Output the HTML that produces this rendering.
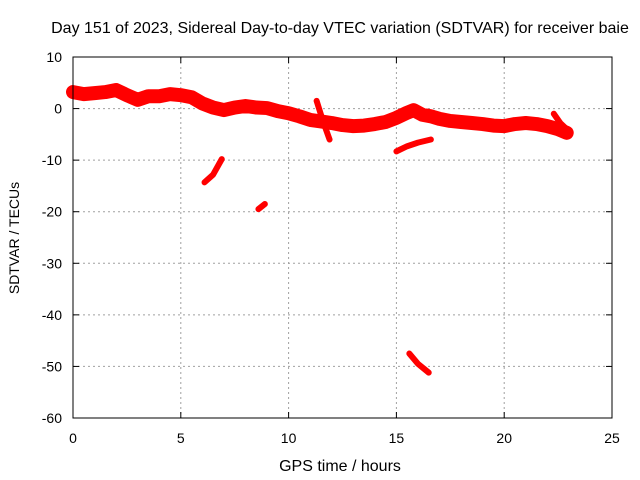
<!DOCTYPE html>
<html><head><meta charset="utf-8"><style>
body{margin:0;background:#fff}
svg{display:block;font-family:"Liberation Sans",sans-serif;font-size:14px}
</style></head><body>
<svg id="c" width="640" height="480">
<rect x="0" y="0" width="640" height="480" fill="#fff"/>
<text x="340" y="33" text-anchor="middle" style="font-size:16px">Day 151 of 2023, Sidereal Day-to-day VTEC variation (SDTVAR) for receiver baie</text>
<text x="340" y="471" text-anchor="middle" style="font-size:16px">GPS time / hours</text>
<text transform="translate(19,238) rotate(-90)" text-anchor="middle">SDTVAR / TECUs</text>
<g id="grid"></g><g id="data"></g>
<rect x="73" y="57" width="539" height="361" fill="none" stroke="#000" stroke-width="1"/>
</svg>
<script>
const xTicks=[0,5,10,15,20,25];
const yTicks=[10,0,-10,-20,-30,-40,-50,-60];
const mainH=[0,0.5,1,1.5,2,2.5,3,3.5,4,4.5,5,5.5,6,6.5,7,7.5,8,8.5,9,9.5,10,10.5,11,11.5,12,12.5,13,13.5,14,14.5,15,15.5,15.8,16.2,16.6,17,17.5,18,18.5,19,19.5,20,20.5,21,21.5,22,22.5,22.9];
const mainV=[3.2,2.8,3,3.2,3.6,2.6,1.7,2.4,2.4,2.8,2.6,2.2,1,0.2,-0.3,0.2,0.5,0.2,0.1,-0.5,-0.9,-1.5,-2.2,-2.5,-2.8,-3.2,-3.4,-3.3,-3,-2.6,-1.8,-0.8,-0.3,-1.2,-1.5,-2,-2.4,-2.6,-2.8,-3,-3.3,-3.4,-3,-2.8,-3,-3.4,-4,-4.7];
const segs=[
 {h:[11.3,11.6,11.9],v:[1.5,-2.5,-6]},
 {h:[22.3,22.6,22.9],v:[-1,-2.8,-4]},
 {h:[15,15.5,16,16.6],v:[-8.3,-7.3,-6.6,-6]},
 {h:[6.1,6.5,6.9],v:[-14.3,-12.8,-9.8]},
 {h:[8.6,8.9],v:[-19.5,-18.5]},
 {h:[15.6,16,16.5],v:[-47.5,-49.5,-51.2]}
];
const X=h=>73+h*539/25, Y=v=>57+(10-v)*361/70;
const NS='http://www.w3.org/2000/svg';
const grid=document.getElementById('grid'), data=document.getElementById('data');
function mk(tag,attrs,parent){const e=document.createElementNS(NS,tag);for(const k in attrs)e.setAttribute(k,attrs[k]);parent.appendChild(e);return e;}
xTicks.forEach(t=>{
 const x=X(t);
 if(t>0&&t<25){const l=mk('line',{x1:x,y1:57,x2:x,y2:418,stroke:'#a0a0a0','stroke-dasharray':'2,3'},grid);
 
 }
 mk('line',{x1:x,y1:418,x2:x,y2:412,stroke:'#000'},grid);mk('line',{x1:x,y1:57,x2:x,y2:63,stroke:'#000'},grid);
 const tx=mk('text',{x:x,y:443,'text-anchor':'middle'},grid);tx.textContent=t;
 
 
});
yTicks.forEach(t=>{
 const y=Y(t);
 if(t<10&&t>-60){const l=mk('line',{x1:73,y1:y,x2:612,y2:y,stroke:'#a0a0a0','stroke-dasharray':'2,3'},grid);
 
 }
 mk('line',{x1:73,y1:y,x2:79,y2:y,stroke:'#000'},grid);mk('line',{x1:612,y1:y,x2:606,y2:y,stroke:'#000'},grid);
 const tx=mk('text',{x:62,y:y+5,'text-anchor':'end'},grid);tx.textContent=t;
 
 
});
function band(hs,vs,w,name){
 const p=mk('polyline',{points:hs.map((h,i)=>X(h)+','+Y(vs[i])).join(' '),fill:'none',stroke:'#f00','stroke-width':w,'stroke-linejoin':'round','stroke-linecap':'round'},data);
 
 
}
band(mainH,mainV,14,'sdtvar-main-series');
segs.forEach((s,i)=>band(s.h,s.v,6,'sdtvar-segment-'+i));
</script>
</body></html>
